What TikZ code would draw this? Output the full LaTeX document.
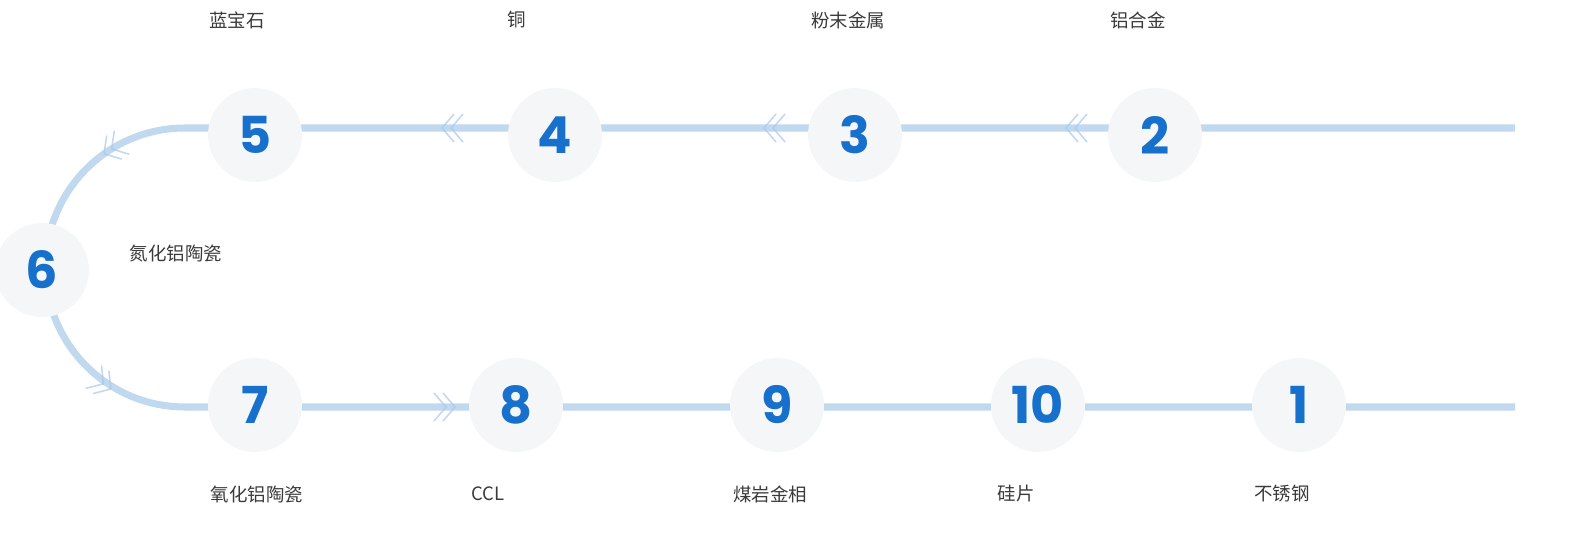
\documentclass[tikz,border=0pt]{standalone}
\usepackage{fontspec}
\usepackage{xcolor}
\usepackage{tikz}
\newfontfamily\cjk{Noto Sans CJK SC}
\newfontfamily\numfont{Poppins}
\definecolor{TrackBlue}{HTML}{C0D9EF}
\definecolor{ChevBlue}{HTML}{A9C8EA}
\definecolor{NumBlue}{HTML}{1670CC}
\definecolor{DiscGray}{HTML}{F5F6F8}
\definecolor{LabelGray}{HTML}{3A3A3A}

\begin{document}
\begin{tikzpicture}[x=0.02cm,y=-0.02cm,
  disc/.style={circle, fill=DiscGray, minimum size=1.88cm, inner sep=0pt,
    font=\numfont\bfseries\fontsize{29}{30}\selectfont, text=NumBlue},
  lab/.style={font=\cjk\fontsize{10.5}{12}\selectfont, text=LabelGray},
  track/.style={line width=4pt, TrackBlue},
  chev/.pic={
    \draw[ChevBlue, line width=0.9pt, opacity=0.7] (5,-14) -- (-7,0) -- (5,14);
    \draw[ChevBlue, line width=0.9pt, opacity=0.7] (14,-14) -- (2,0) -- (14,14);
  }]
\useasboundingbox (0,0) rectangle (1569,534);
%
\coordinate (endT) at (1515,128);
\coordinate (arcT) at (185,128);
\coordinate (endB) at (1515,407);
\draw[track] (endT) -- (arcT) arc (270:90:139.5) -- (endB);
%
\pic at (449,128) {chev};
\pic at (771,128) {chev};
\pic at (1073,128) {chev};
\pic[rotate=180] at (448,407) {chev};
\pic[rotate=32.5] at (110,150) {chev};
\pic[rotate=145] at (105,385) {chev};
%
\node[disc] (n5) at (255,135) {5};
\node[disc] (n4) at (555,135) {4};
\node[disc] (n3) at (855,135) {3};
\node[disc] (n2) at (1155,135) {2};
\node[disc] (n6) at (42,270) {6};
\node[disc] (n7) at (255,405) {7};
\node[disc] (n8) at (516,405) {8};
\node[disc] (n9) at (777,405) {9};
\node[disc] (n10) at (1038,405) {10};
\node[disc] (n1) at (1299,405) {1};
%
\node[lab] (t5) at (237,20) {蓝宝石};
\node[lab] (t4) at (517,20) {铜};
\node[lab] (t3) at (848,20) {粉末金属};
\node[lab] (t2) at (1138,20) {铝合金};
\node[lab] (t6) at (176,253) {氮化铝陶瓷};
\node[lab] (t7) at (257,494) {氧化铝陶瓷};
\node[lab] (t8) at (488,494) {CCL};
\node[lab] (t9) at (770,494) {煤岩金相};
\node[lab] (t10) at (1016,494) {硅片};
\node[lab] (t1) at (1282,494) {不锈钢};
\end{tikzpicture}
\end{document}
